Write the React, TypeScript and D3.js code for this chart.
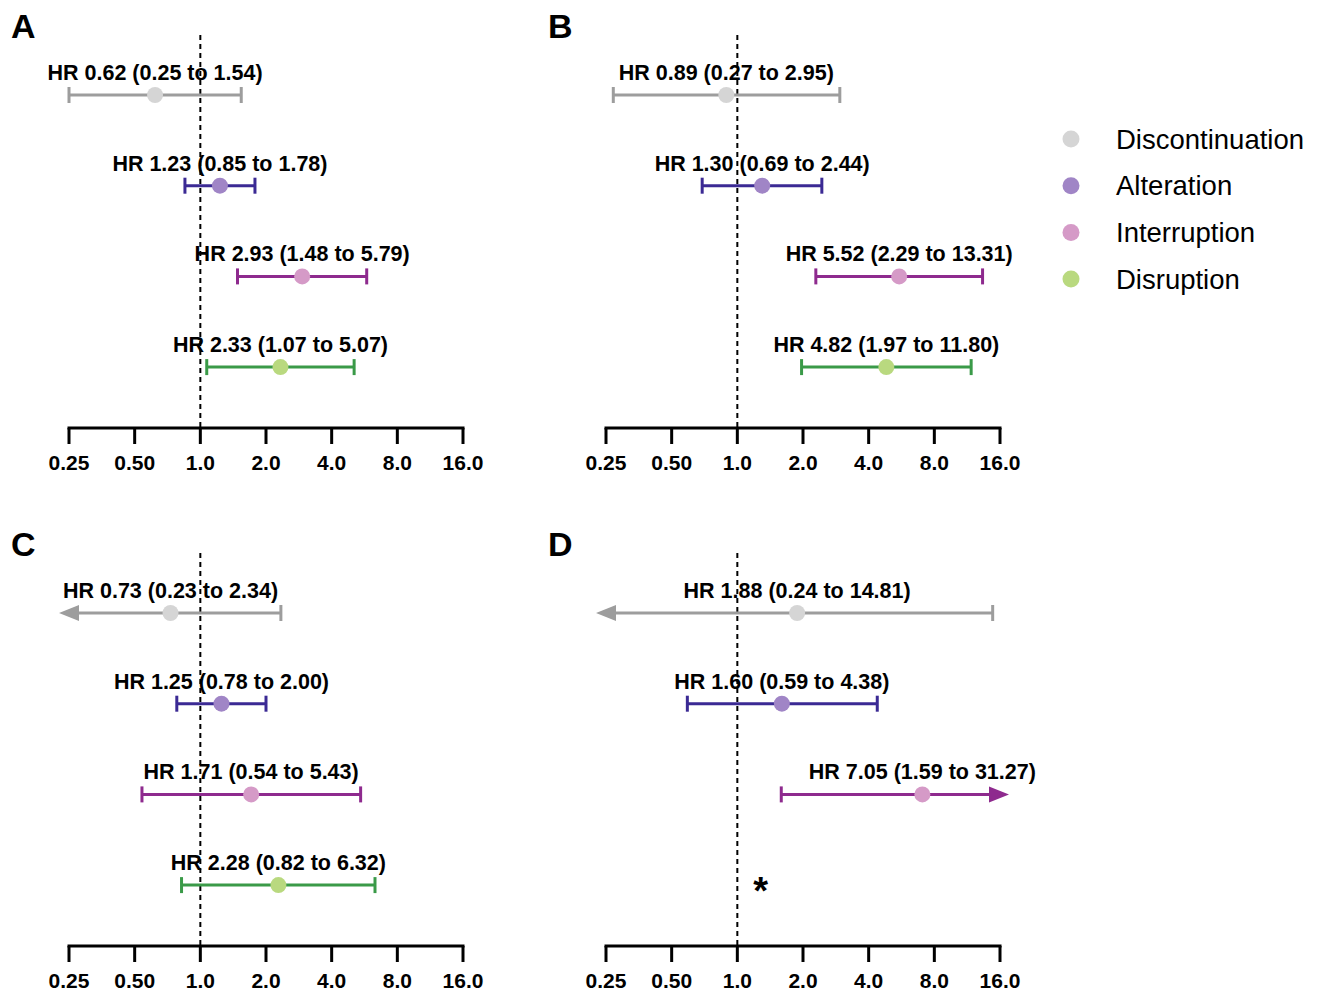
import React from "react";
import * as d3 from "d3";

const categories = ["Discontinuation", "Alteration", "Interruption", "Disruption"];
const lineColors = ["#9d9d9d", "#3b2a94", "#8e2a8e", "#3a9a48"];
const dotColors = ["#d5d5d5", "#a085c6", "#d59ac7", "#b9d97f"];

const tickValues = [0.25, 0.5, 1, 2, 4, 8, 16];
const tickLabels = ["0.25", "0.50", "1.0", "2.0", "4.0", "8.0", "16.0"];

const hrA = [0.62, 1.23, 2.93, 2.33];
const loA = [0.25, 0.85, 1.48, 1.07];
const hiA = [1.54, 1.78, 5.79, 5.07];
const hrB = [0.89, 1.3, 5.52, 4.82];
const loB = [0.27, 0.69, 2.29, 1.97];
const hiB = [2.95, 2.44, 13.31, 11.8];
const hrC = [0.73, 1.25, 1.71, 2.28];
const loC = [0.23, 0.78, 0.54, 0.82];
const hiC = [2.34, 2.0, 5.43, 6.32];
const hrD = [1.88, 1.6, 7.05, null];
const loD = [0.24, 0.59, 1.59, null];
const hiD = [14.81, 4.38, 31.27, null];

const panels = [
  { name: "A", hr: hrA, lo: loA, hi: hiA, dx: 0, dy: 0 },
  { name: "B", hr: hrB, lo: loB, hi: hiB, dx: 537, dy: 0 },
  { name: "C", hr: hrC, lo: loC, hi: hiC, dx: 0, dy: 518 },
  { name: "D", hr: hrD, lo: loD, hi: hiD, dx: 537, dy: 518 },
];

const fmt = (v: number) => v.toFixed(2);
const FONT = "Liberation Sans, Arial, Helvetica, sans-serif";

function Panel({ p }: { p: any }) {
  const x = d3.scaleLog().base(2).domain([0.25, 16]).range([69 + p.dx, 463 + p.dx]);
  const axisY = 428 + p.dy;
  const rowY = (i: number) => 95 + p.dy + i * 90.7;
  const [xmin, xmax] = x.range();
  return (
    <g>
      <text x={11 + p.dx} y={38 + p.dy} fontSize={34} fontWeight="bold" fontFamily={FONT}>
        {p.name}
      </text>
      <line x1={x(1)} x2={x(1)} y1={35 + p.dy} y2={axisY} stroke="#000" strokeWidth={2} strokeDasharray="5,4" />
      <line x1={xmin - 1.5} x2={xmax + 1.5} y1={axisY} y2={axisY} stroke="#000" strokeWidth={3} />
      {tickValues.map((t, i) => (
        <g key={i}>
          <line x1={x(t)} x2={x(t)} y1={axisY} y2={axisY + 16} stroke="#000" strokeWidth={3} />
          <text x={x(t)} y={axisY + 41.5} textAnchor="middle" fontSize={21} fontWeight="bold" fontFamily={FONT}>
            {tickLabels[i]}
          </text>
        </g>
      ))}
      {categories.map((c, i) => {
        const hr = p.hr[i];
        if (hr == null) return null;
        const lo = p.lo[i];
        const hi = p.hi[i];
        const y = rowY(i);
        const leftArrow = lo < 0.25;
        const rightArrow = hi > 16;
        const xl = leftArrow ? xmin - 10 : x(lo);
        const xr = rightArrow ? xmax + 9 : x(hi);
        const col = lineColors[i];
        return (
          <g key={c}>
            <line x1={leftArrow ? xl + 18 : xl} x2={rightArrow ? xr - 18 : xr} y1={y} y2={y} stroke={col} strokeWidth={3} />
            {leftArrow ? (
              <path d={`M${xl},${y} L${xl + 20},${y - 8} L${xl + 20},${y + 8} Z`} fill={col} />
            ) : (
              <line x1={xl} x2={xl} y1={y - 8} y2={y + 8} stroke={col} strokeWidth={3} />
            )}
            {rightArrow ? (
              <path d={`M${xr},${y} L${xr - 20},${y - 8} L${xr - 20},${y + 8} Z`} fill={col} />
            ) : (
              <line x1={xr} x2={xr} y1={y - 8} y2={y + 8} stroke={col} strokeWidth={3} />
            )}
            <circle cx={x(hr)} cy={y} r={8} fill={dotColors[i]} />
            <text x={x(hr)} y={y - 15} textAnchor="middle" fontSize={21.5} fontWeight="bold" fontFamily={FONT}>
              {`HR ${fmt(hr)} (${fmt(lo)} to ${fmt(hi)})`}
            </text>
          </g>
        );
      })}
      {p.name === "D" && (
        <text x={x(1.28)} y={rowY(3) + 19} textAnchor="middle" fontSize={38} fontWeight="bold" fontFamily={FONT}>
          *
        </text>
      )}
    </g>
  );
}

export default function App() {
  return (
    <svg width={1319} height={992} style={{ position: "absolute", left: 0, top: 0, background: "#fff" }}>
      <rect width={1319} height={992} fill="#fff" />
      {panels.map((p) => (
        <Panel key={p.name} p={p} />
      ))}
      {categories.map((c, i) => (
        <g key={c}>
          <circle cx={1071} cy={139 + i * 46.7} r={8.5} fill={dotColors[i]} />
          <text x={1116} y={139 + i * 46.7 + 9.5} fontSize={27.5} fontFamily={FONT}>
            {c}
          </text>
        </g>
      ))}
    </svg>
  );
}
